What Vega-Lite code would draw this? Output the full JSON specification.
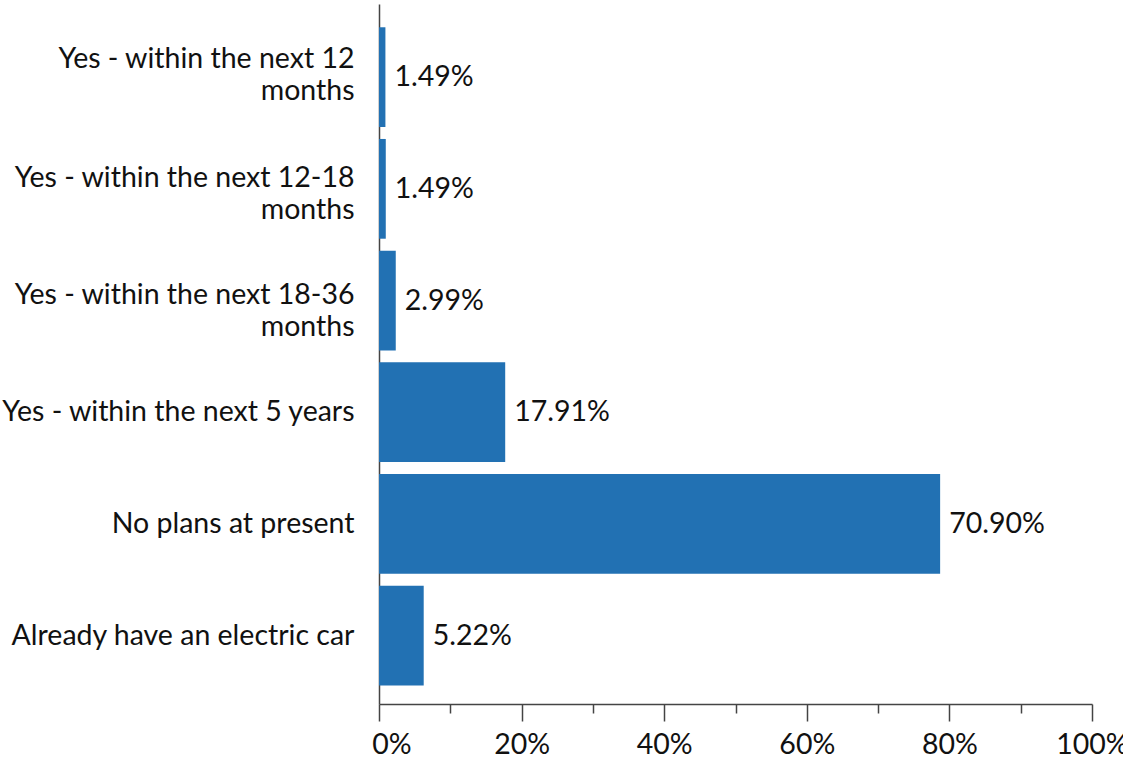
{
  "$schema": "https://vega.github.io/schema/vega-lite/v6.json",
  "autosize": "none",
  "width": 713,
  "height": 700,
  "padding": {"left": 379, "top": 4, "right": 31, "bottom": 56},
  "background": "white",
  "config": {
    "view": {"stroke": null},
    "font": "Lato",
    "axis": {"labelFont": "Lato", "labelColor": "#111", "domainColor": "#444", "domainWidth": 1.5, "tickColor": "#444", "tickWidth": 1.5}
  },
  "data": {
    "values": [
      {"answer": "Yes - within the next 12 months", "bar": 0.9, "label": "1.49%"},
      {"answer": "Yes - within the next 12-18 months", "bar": 0.95, "label": "1.49%"},
      {"answer": "Yes - within the next 18-36 months", "bar": 2.35, "label": "2.99%"},
      {"answer": "Yes - within the next 5 years", "bar": 17.7, "label": "17.91%"},
      {"answer": "No plans at present", "bar": 78.7, "label": "70.90%"},
      {"answer": "Already have an electric car", "bar": 6.27, "label": "5.22%"}
    ]
  },
  "encoding": {
    "y": {
      "field": "answer",
      "type": "nominal",
      "sort": null,
      "scale": {"paddingInner": 0.107, "paddingOuter": 0.187, "align": 0.557},
      "axis": {
        "title": null,
        "ticks": false,
        "tickSize": 0,
        "labelFontSize": 28.5,
        "labelLineHeight": 32,
        "labelPadding": 25,
        "labelLimit": 0,
        "labelExpr": "indexof(datum.label, ' months') > 0 ? [replace(datum.label, ' months', ''), 'months'] : datum.label",
        "labelOffset": {
          "condition": [
            {"test": "datum.value === 'Yes - within the next 12 months'", "value": -18},
            {"test": "datum.value === 'Yes - within the next 12-18 months'", "value": -10.5},
            {"test": "datum.value === 'Yes - within the next 18-36 months'", "value": -6}
          ],
          "value": 0
        }
      }
    },
    "x": {
      "field": "bar",
      "type": "quantitative",
      "scale": {"domain": [0, 100], "nice": false},
      "axis": {
        "title": null,
        "grid": false,
        "labelFlush": false,
        "values": [0, 10, 20, 30, 40, 50, 60, 70, 80, 90, 100],
        "labelExpr": "datum.value % 20 === 0 ? datum.value + '%' : ''",
        "labelFontSize": 28.5,
        "labelPadding": 9,
        "tickSize": {"condition": {"test": "datum.value % 20 !== 0", "value": 9}, "value": 17},
        "labelOffset": {"condition": {"test": "datum.value === 0", "value": 12.5}, "value": 0}
      }
    }
  },
  "layer": [
    {"mark": {"type": "bar", "color": "#2271b3"}},
    {
      "mark": {"type": "text", "align": "left", "baseline": "middle", "dx": 9, "fontSize": 28.5, "font": "Lato", "color": "#111"},
      "encoding": {"text": {"field": "label"}}
    }
  ]
}
